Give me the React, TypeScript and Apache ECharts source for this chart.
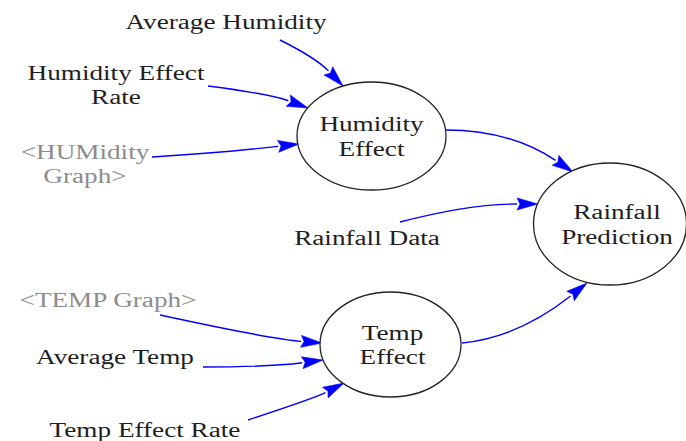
import React, { useEffect, useRef } from "react";
import * as echarts from "echarts";

// ---- Data (diagram coordinate space, px) ----
const NODE_LABELS = ["Humidity\nEffect", "Rainfall\nPrediction", "Temp\nEffect"];
const NODE_X = [371.5, 610, 390.5];
const NODE_Y = [136, 224, 344.5];

const VAR_LABELS = [
  "Average Humidity",
  "Humidity Effect\nRate",
  "<HUMidity\nGraph>",
  "Rainfall Data",
  "<TEMP Graph>",
  "Average Temp",
  "Temp Effect Rate",
];
const VAR_X = [226, 116, 85, 367, 108, 115, 145];
const VAR_Y = [22, 85.5, 164.5, 238, 300, 357, 430];
const VAR_SHADOW = [0, 0, 1, 0, 1, 0, 0];

// edges: start point, control point, arrow tip
const EDGE_START = [
  [280, 40], [208, 86], [152, 157], [446, 130], [400, 222],
  [462, 343], [160, 315], [203, 367], [248, 420],
];
const EDGE_CONTROL = [
  [316, 58], [270, 94], [228, 152], [510, 130], [469, 204],
  [519, 337], [271, 339], [270, 367], [315, 398],
];
const EDGE_END = [
  [343, 86], [308, 108], [299, 144], [573, 172], [538, 204],
  [587, 283], [322, 343], [323, 360], [344, 383],
];

// ---- Styles ----
const NODE_RX = [74.5, 76.5, 70.5];
const NODE_RY = [54, 61, 52.5];
const NODE_LABEL_DX = [0, 7, 2];
const FONT = "20px \"Liberation Serif\", \"Times New Roman\", Times, serif";
const TEXT_SCALE_X = 1.36;
const TEXT_COLOR = "#1e1e1e";
const SHADOW_COLOR = "#8c8c8c";
const EDGE_COLOR = "#0000ff";
const ARROW_LEN = 21;
const ARROW_HALF = 6;

export default function App() {
  const ref = useRef<HTMLDivElement>(null);

  useEffect(() => {
    if (!ref.current) return;
    const chart = echarts.init(ref.current, undefined, { renderer: "svg" });

    const nodeData = NODE_LABELS.map((l, i) => [NODE_X[i], NODE_Y[i], i]);
    const varData = VAR_LABELS.map((l, i) => [VAR_X[i], VAR_Y[i], i]);
    const edgeData = EDGE_START.map((s, i) => [
      s[0], s[1], EDGE_CONTROL[i][0], EDGE_CONTROL[i][1], EDGE_END[i][0], EDGE_END[i][1],
    ]);

    const textEl = (x: number, y: number, text: string, fill: string) => ({
      type: "group",
      x,
      y,
      scaleX: TEXT_SCALE_X,
      scaleY: 1,
      children: [
        {
          type: "text",
          style: {
            text,
            x: 0,
            y: 0,
            fill,
            font: FONT,
            textFont: FONT,
            textAlign: "center",
            textVerticalAlign: "middle",
            lineHeight: 24.5,
          },
        },
      ],
    });

    chart.setOption({
      animation: false,
      backgroundColor: "#ffffff",
      textStyle: { fontFamily: "Liberation Serif" },
      grid: { left: 0, right: 0, top: 0, bottom: 0 },
      xAxis: { type: "value", min: 0, max: 686, show: false },
      yAxis: { type: "value", min: 0, max: 441, inverse: true, show: false },
      series: [
        {
          type: "custom",
          name: "edges",
          data: edgeData,
          encode: { x: [0, 2, 4], y: [1, 3, 5] },
          renderItem: (params: any, api: any) => {
            const p1 = api.coord([api.value(0), api.value(1)]);
            const c = api.coord([api.value(2), api.value(3)]);
            const p2 = api.coord([api.value(4), api.value(5)]);
            let dx = p2[0] - c[0];
            let dy = p2[1] - c[1];
            const len = Math.hypot(dx, dy) || 1;
            dx /= len;
            dy /= len;
            const bx = p2[0] - dx * ARROW_LEN;
            const by = p2[1] - dy * ARROW_LEN;
            const nx = -dy * ARROW_HALF;
            const ny = dx * ARROW_HALF;
            return {
              type: "group",
              children: [
                {
                  type: "bezierCurve",
                  shape: { x1: p1[0], y1: p1[1], cpx1: c[0], cpy1: c[1], x2: bx, y2: by },
                  style: { stroke: EDGE_COLOR, lineWidth: 1.4, fill: "none" },
                },
                {
                  type: "polygon",
                  shape: {
                    points: [
                      [p2[0], p2[1]],
                      [bx + nx, by + ny],
                      [bx + dx * 3, by + dy * 3],
                      [bx - nx, by - ny],
                    ],
                  },
                  style: { fill: EDGE_COLOR, stroke: EDGE_COLOR, lineWidth: 0.6 },
                },
              ],
            };
          },
          z: 2,
        },
        {
          type: "custom",
          name: "nodes",
          data: nodeData,
          encode: { x: 0, y: 1 },
          renderItem: (params: any, api: any) => {
            const i = api.value(2);
            const p = api.coord([api.value(0), api.value(1)]);
            const sz = api.size([NODE_RX[i], NODE_RY[i]]);
            return {
              type: "group",
              children: [
                {
                  type: "ellipse",
                  shape: { cx: p[0], cy: p[1], rx: sz[0], ry: sz[1] },
                  style: { fill: "#ffffff", stroke: "#222222", lineWidth: 1.3 },
                },
                textEl(p[0] + NODE_LABEL_DX[i], p[1] + 1, NODE_LABELS[i], TEXT_COLOR),
              ],
            };
          },
          z: 3,
        },
        {
          type: "custom",
          name: "variables",
          data: varData,
          encode: { x: 0, y: 1 },
          renderItem: (params: any, api: any) => {
            const i = api.value(2);
            const p = api.coord([api.value(0), api.value(1)]);
            return textEl(p[0], p[1], VAR_LABELS[i], VAR_SHADOW[i] ? SHADOW_COLOR : TEXT_COLOR);
          },
          z: 4,
        },
      ],
    });

    return () => chart.dispose();
  }, []);

  return (
    <div
      ref={ref}
      style={{ position: "absolute", left: 0, top: 0, width: 686, height: 441, background: "#fff" }}
    />
  );
}
